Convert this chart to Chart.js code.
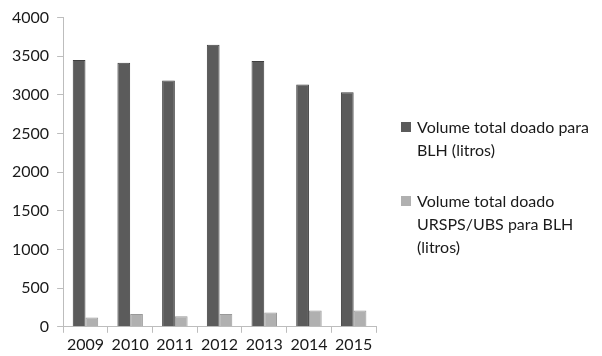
<!DOCTYPE html>
<html>
<head>
<meta charset="utf-8">
<script src="https://cdn.jsdelivr.net/npm/chart.js@4/dist/chart.umd.min.js"></script>
<style>
    html, body { margin: 0; padding: 0; background: #fff; }
    #caixa { position: relative; width: 602px; height: 356px; }
    #legenda {
        position: absolute; left: 399px; top: 115px; width: 200px;
        font-family: Lato, "Open Sans", sans-serif; font-size: 16px; line-height: 23px; color: #1a1a1a;
    }
    .item { position: relative; padding-left: 18px; margin-bottom: 28px; }
    .quadrado { position: absolute; left: 2px; top: 7px; width: 10px; height: 10px; }
</style>
</head>
<body>
<div id="caixa">
    <canvas id="grafico" width="602" height="356"></canvas>
    <div id="legenda"></div>
</div>
<script>
var anos = ["2009", "2010", "2011", "2012", "2013", "2014", "2015"];
var volumeBLH = [3450, 3415, 3185, 3650, 3440, 3135, 3035];
var volumeURSPS = [120, 165, 135, 165, 185, 210, 210];
var nomesSeries = [
    "Volume total doado para BLH (litros)",
    "Volume total doado URSPS/UBS para BLH (litros)"
];
var coresSeries = ["#5b5b5b", "#b0b0b0"];
var bordasSeries = ["#3f3f3f", "#999999"];
var ticksY = [0, 500, 1000, 1500, 2000, 2500, 3000, 3500, 4000];

var fonte = { family: "Lato, 'Open Sans', sans-serif", size: 16 };

var config = {
    type: "bar",
    data: {
        labels: anos,
        datasets: [{
            label: nomesSeries[0],
            data: volumeBLH,
            backgroundColor: coresSeries[0],
            borderColor: bordasSeries[0],
            borderWidth: 1
        }, {
            label: nomesSeries[1],
            data: volumeURSPS,
            backgroundColor: coresSeries[1],
            borderColor: bordasSeries[1],
            borderWidth: 1
        }]
    },
    options: {
        responsive: false,
        animation: false,
        layout: { padding: { left: 4, right: 226, top: 13, bottom: 0 } },
        plugins: {
            legend: { display: false },
            tooltip: { enabled: false }
        },
        datasets: {
            bar: { categoryPercentage: 0.57, barPercentage: 1 }
        },
        scales: {
            x: {
                grid: { drawOnChartArea: false, drawTicks: true, tickLength: 6, color: "#bdbdbd" },
                border: { color: "#bdbdbd", width: 1 },
                ticks: { color: "#1a1a1a", font: fonte, padding: 2, maxRotation: 0 }
            },
            y: {
                min: 0,
                max: 4000,
                afterBuildTicks: function (eixo) {
                    eixo.ticks = ticksY.map(function (v) { return { value: v }; });
                },
                grid: { drawOnChartArea: false, drawTicks: true, tickLength: 6, color: "#bdbdbd" },
                border: { color: "#bdbdbd", width: 1 },
                ticks: {
                    color: "#1a1a1a", font: fonte, padding: 8,
                    callback: function (valor) { return String(valor); }
                }
            }
        }
    }
};

new Chart(document.getElementById("grafico"), config);

var html = "";
for (var i = 0; i < nomesSeries.length; i++) {
    html += '<div class="item"><span class="quadrado" style="background:' + coresSeries[i] + '"></span>' + nomesSeries[i] + '</div>';
}
document.getElementById("legenda").innerHTML = html;
</script>
</body>
</html>
